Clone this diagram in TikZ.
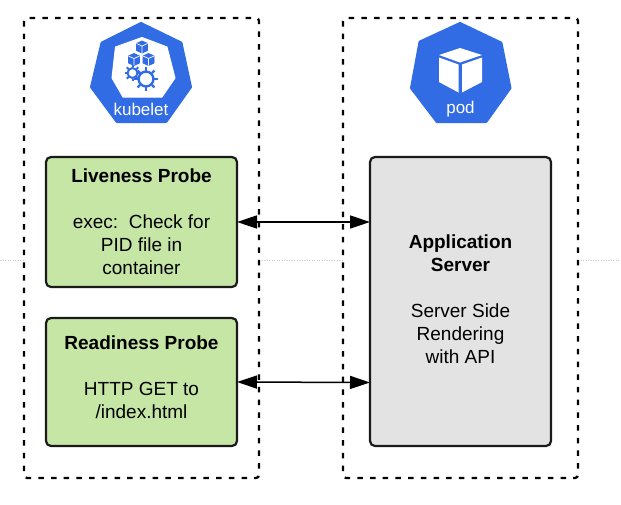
\documentclass[tikz,border=0pt]{standalone}
\usepackage{fontspec}
\setmainfont{Liberation Sans}
\definecolor{kblue}{HTML}{326CE5}
\definecolor{boxgreen}{HTML}{C6E6A6}
\definecolor{boxgrey}{HTML}{E3E3E3}
\definecolor{inkline}{HTML}{1A1A1A}
\usetikzlibrary{arrows.meta}
\tikzset{
  x=1pt,y=-1pt,
  frame/.style={draw=black,line width=2.3pt,dash pattern=on 5.5pt off 7.2pt,rounded corners=3pt},
  probebox/.style={draw=inkline,line width=2.2pt,rounded corners=5pt,fill=boxgreen},
  appbox/.style={draw=inkline,line width=2.2pt,rounded corners=5pt,fill=boxgrey},
  body/.style={font=\fontsize{19}{23}\selectfont,align=center,text=black,inner sep=0pt},
  hept/.style={fill=kblue,draw=kblue,line width=3pt,line join=round},
  logotext/.style={font=\fontsize{17}{20}\selectfont,text=white,inner sep=0pt},
  link/.style={draw=black,line width=1.5pt,{Triangle[length=20pt,width=13pt]}-{Triangle[length=20pt,width=13pt]}},
  faint/.style={draw=black!22,line width=0.6pt,dash pattern=on 1pt off 1.5pt},
  pics/minicube/.style={code={
    \fill[kblue,draw=kblue,line width=0.8pt,line join=round] (0,-6)--(5.5,-3.5)--(5.5,3.5)--(0,6)--(-5.5,3.5)--(-5.5,-3.5)--cycle;
    \draw[white,line width=0.7pt] (-5.5,-3.5)--(0,-1)--(5.5,-3.5) (0,-1)--(0,6);
  }},
  pics/cog/.style args={#1/#2}{code={
    \foreach \a in {0,45,...,315}{\draw[kblue,line width=#2] (\a:#1*0.7)--(\a:#1);}
    \draw[kblue,line width=#2,fill=white] (0,0) circle[radius=#1*0.62];
  }}
}
\begin{document}
\begin{tikzpicture}
\useasboundingbox (0,0) rectangle (621,504);
\fill[white] (0,0) rectangle (621,504);
\coordinate (fa) at (0,260); \coordinate (fb) at (24,260);
\coordinate (fc) at (259,260); \coordinate (fd) at (343,260);
\coordinate (fe) at (578,260); \coordinate (ff) at (621,260);
\draw[faint] (fa)--(fb) (fc)--(fd) (fe)--(ff);

\draw[frame] (24,18) rectangle (259,478);
\draw[frame] (343,18) rectangle (578,478);

% kubelet logo
\draw[hept] (141,23.5)--(181,43)--(190.5,87)--(166,121.5)--(117,121.5)--(91.5,87)--(102,43)--cycle;
\fill[white,line join=round,draw=white,line width=1pt] (142,37.5)--(167,47)--(175,78)--(162,97)--(123,97)--(112,78)--(115.5,47)--cycle;
\pic at (142,47) {minicube};
\pic at (134,59.5) {minicube};
\pic at (148.5,59.5) {minicube};
\pic at (132.5,73) {cog={8pt/2pt}};
\pic at (146,79) {cog={12pt/2.4pt}};
\node[logotext] (kubelet) at (141,109) {kubelet};

% pod logo
\draw[hept] (460,23.5)--(501,43)--(510,88)--(486,121.5)--(437,121.5)--(411.5,88)--(420,42)--cycle;
\fill[white] (460,48)--(482,55)--(460,62.5)--(439,55)--cycle;
\fill[white] (439,57.5)--(458.5,64.5)--(458.5,92.5)--(439,82)--cycle;
\fill[white] (482,57.5)--(462,64.5)--(462,92.5)--(482,82)--cycle;
\node[logotext] (pod) at (460.5,109) {pod};

% boxes
\path[probebox] (46,157) rectangle (237,287);
\path[probebox] (46,318) rectangle (237,446);
\path[appbox] (370,157) rectangle (551,446);
\coordinate (liveE) at (237,222);
\coordinate (readE) at (237,382);
\coordinate (appL) at (370,222);
\coordinate (appR) at (370,382.5);
\node[body] (live) at (141.5,222) {\textbf{Liveness Probe}\\[23pt]exec:\ \ Check for\\PID file in\\container};
\node[body] (ready) at (141.5,377.5) {\textbf{Readiness Probe}\\[23pt]HTTP GET to\\/index.html};
\node[body] (app) at (460.5,299.5) {\textbf{Application}\\\textbf{Server}\\[23pt]Server Side\\Rendering\\with API};

\draw[link] (liveE)--(appL);
\draw[link] (readE)--(appR);
\end{tikzpicture}
\end{document}
